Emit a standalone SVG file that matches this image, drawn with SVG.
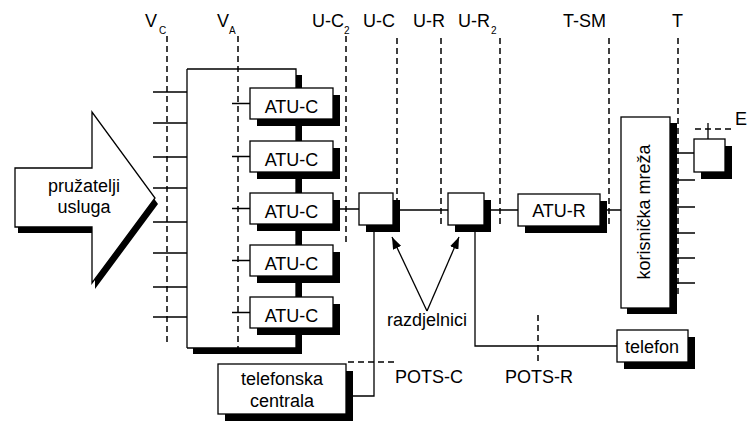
<svg xmlns="http://www.w3.org/2000/svg" width="748" height="425" viewBox="0 0 748 425">
<defs>
<marker id="ah" viewBox="0 0 12 9" refX="12" refY="4.5" markerWidth="12" markerHeight="9" markerUnits="userSpaceOnUse" orient="auto"><path d="M0,0 L12,4.5 L0,9 z" fill="#000"/></marker>
</defs>
<style>
.box{fill:#fff;stroke:#000;stroke-width:1.3}
.sh{fill:#000}
.ln{fill:none;stroke:#000;stroke-width:1.3}
.ref{fill:none;stroke:#000;stroke-width:1.5;stroke-dasharray:6 4}
text{font-family:"Liberation Sans",Arial,sans-serif;fill:#000}
.t{font-size:18px;text-anchor:middle}
.lab{font-size:18px}
.sub{font-size:10px}
</style>
<rect width="748" height="425" fill="#fff"/>

<g id="reference-points">
<path class="ref" d="M167,36V346M238,36V348M346,36V245M397,38V225M441,38V225M500,38V225M609,38V225M678,38V295M348,362H398M538,315V362M695,129H734"/>
<text class="lab" x="145" y="27">V</text><text class="sub" x="159" y="34">C</text>
<text class="lab" x="217" y="27">V</text><text class="sub" x="229" y="34">A</text>
<text class="lab" x="312" y="27">U-C</text><text class="sub" x="344" y="34">2</text>
<text class="lab" x="363" y="27">U-C</text>
<text class="lab" x="413" y="27">U-R</text>
<text class="lab" x="458" y="27">U-R</text><text class="sub" x="491" y="34">2</text>
<text class="lab" x="563" y="27">T-SM</text>
<text class="lab" x="672" y="27">T</text>
<text class="lab" x="735" y="125">E</text>
<text class="lab" x="395" y="383">POTS-C</text>
<text class="lab" x="505" y="383">POTS-R</text>
</g>

<g id="connectors">
<path class="ln" d="M187,69V348M187,69H296V348M187,348H296"/>
<rect class="sh" x="296" y="75" width="6" height="279"/>
<rect class="sh" x="193" y="348" width="109" height="6"/>
<path class="ln" d="M153,92H187M153,123H187M153,157H187M153,188H187M153,222H187M153,253H187M153,287H187M153,317H187"/>
<path class="ln" d="M232,103.5H250M232,156.5H250M232,208.5H250M232,260.5H250M232,312.5H250"/>
<path class="ln" d="M338,209H359M393,210H448M484,210H518M600,210H621"/>
<path class="ln" d="M374,225V396H346M475,225V346H617"/>
<path class="ln" d="M670,153H694M677,180H695M677,207H695M677,233H695M677,258H695M677,283H695M708,123V139"/>
<path class="ln" d="M427,311L392,237" marker-end="url(#ah)"/>
<path class="ln" d="M427,311L459,237" marker-end="url(#ah)"/>
</g>

<g id="provider">
<polygon class="sh" points="18,174 95,174 95,118 158,204 95,289 95,233 18,233"/>
<polygon class="box" points="15,168 92,168 92,112 155,198 92,283 92,227 15,227"/>
<text class="t" x="84" y="192">pružatelji</text>
<text class="t" x="84" y="213">usluga</text>
</g>

<g id="atuc1"><rect class="sh" x="257" y="95" width="83" height="31"/><rect class="box" x="250" y="88" width="83" height="31"/><text class="t" x="291.5" y="113">ATU-C</text></g>
<g id="atuc2"><rect class="sh" x="257" y="148" width="83" height="31"/><rect class="box" x="250" y="141" width="83" height="31"/><text class="t" x="291.5" y="166">ATU-C</text></g>
<g id="atuc3"><rect class="sh" x="257" y="200" width="83" height="31"/><rect class="box" x="250" y="193" width="83" height="31"/><text class="t" x="291.5" y="218">ATU-C</text></g>
<g id="atuc4"><rect class="sh" x="257" y="252" width="83" height="31"/><rect class="box" x="250" y="245" width="83" height="31"/><text class="t" x="291.5" y="270">ATU-C</text></g>
<g id="atuc5"><rect class="sh" x="257" y="304" width="83" height="31"/><rect class="box" x="250" y="297" width="83" height="31"/><text class="t" x="291.5" y="322">ATU-C</text></g>

<g id="splitter1"><rect class="sh" x="366" y="200" width="34" height="32"/><rect class="box" x="359" y="193" width="34" height="32"/></g>
<g id="splitter2"><rect class="sh" x="455" y="200" width="36" height="32"/><rect class="box" x="448" y="193" width="36" height="32"/></g>
<g id="splitter-label"><text class="t" x="427" y="326">razdjelnici</text></g>

<g id="atur"><rect class="sh" x="525" y="201" width="82" height="32"/><rect class="box" x="518" y="194" width="82" height="32"/><text class="t" x="559" y="217">ATU-R</text></g>

<g id="customer-network"><rect class="sh" x="627" y="123" width="50" height="191"/><rect class="box" x="621" y="117" width="49" height="191"/><text class="t" transform="translate(650,212) rotate(-90)">korisnička mreža</text></g>

<g id="terminal"><rect class="sh" x="701" y="146" width="31" height="33"/><rect class="box" x="694" y="139" width="31" height="33"/></g>

<g id="exchange"><rect class="sh" x="225" y="371" width="128" height="50"/><rect class="box" x="218" y="364" width="128" height="50"/><text class="t" x="282" y="385">telefonska</text><text class="t" x="282" y="407">centrala</text></g>

<g id="phone"><rect class="sh" x="624" y="337" width="71" height="32"/><rect class="box" x="617" y="330" width="71" height="32"/><text class="t" x="652" y="353">telefon</text></g>
</svg>
